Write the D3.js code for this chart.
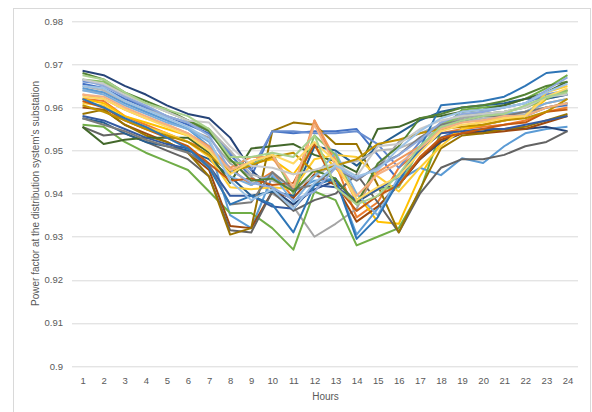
<!DOCTYPE html>
<html>
<head>
<meta charset="utf-8">
<script src="https://d3js.org/d3.v7.min.js"></script>
<style>
	html, body { margin:0; padding:0; background:#fff; }
	text { font-family: "Liberation Sans", "DejaVu Sans", sans-serif; fill:#595959; }
</style>
</head>
<body>
<div id="chart"></div>
<script>
// categories / ticks
var hours = ["1","2","3","4","5","6","7","8","9","10","11","12","13","14","15","16","17","18","19","20","21","22","23","24"];
var yTicks = [0.9, 0.91, 0.92, 0.93, 0.94, 0.95, 0.96, 0.97, 0.98];
var yTickLabels = ["0.9","0.91","0.92","0.93","0.94","0.95","0.96","0.97","0.98"];

// series values (power factor per hour)
var s01 = [0.9655,0.9645,0.962,0.960,0.958,0.956,0.954,0.949,0.944,0.9545,0.954,0.9545,0.9545,0.955,0.949,0.943,0.948,0.953,0.955,0.956,0.957,0.958,0.960,0.9605];
var s02 = [0.962,0.9615,0.958,0.956,0.954,0.952,0.950,0.946,0.942,0.945,0.939,0.957,0.947,0.9345,0.938,0.946,0.950,0.954,0.955,0.9555,0.956,0.957,0.959,0.960];
var s03 = [0.964,0.9635,0.961,0.959,0.957,0.955,0.953,0.947,0.944,0.940,0.937,0.930,0.933,0.9365,0.946,0.952,0.954,0.956,0.9575,0.9585,0.959,0.960,0.962,0.963];
var s04 = [0.962,0.961,0.958,0.9565,0.955,0.9535,0.950,0.945,0.947,0.948,0.9445,0.951,0.946,0.940,0.9335,0.933,0.944,0.952,0.955,0.956,0.957,0.958,0.962,0.964];
var s05 = [0.9645,0.9635,0.961,0.959,0.957,0.955,0.951,0.935,0.932,0.944,0.9405,0.943,0.9435,0.9305,0.9365,0.943,0.946,0.9443,0.9482,0.9471,0.951,0.954,0.955,0.9555];
var s06 = [0.956,0.9555,0.952,0.9495,0.9475,0.9455,0.9405,0.9355,0.9355,0.932,0.927,0.9405,0.9385,0.928,0.930,0.932,0.9405,0.9545,0.9595,0.960,0.9605,0.962,0.9645,0.9675];
var s07 = [0.9685,0.9675,0.965,0.963,0.9605,0.9585,0.9575,0.953,0.9455,0.941,0.9375,0.941,0.943,0.938,0.941,0.942,0.948,0.952,0.954,0.9545,0.955,0.955,0.9555,0.9545];
var s08 = [0.960,0.9595,0.956,0.954,0.952,0.9495,0.9455,0.9325,0.932,0.9405,0.939,0.9445,0.942,0.9335,0.937,0.942,0.948,0.9525,0.954,0.954,0.9545,0.955,0.9565,0.958];
var s09 = [0.9555,0.9535,0.954,0.952,0.950,0.948,0.944,0.9315,0.931,0.9405,0.936,0.9385,0.940,0.9445,0.938,0.931,0.940,0.946,0.948,0.948,0.949,0.951,0.952,0.9545];
var s10 = [0.9585,0.9595,0.956,0.9535,0.952,0.9495,0.944,0.9305,0.932,0.9545,0.9565,0.956,0.9515,0.9515,0.942,0.931,0.941,0.9505,0.9535,0.954,0.955,0.9555,0.957,0.9585];
var s11 = [0.9575,0.9565,0.954,0.952,0.951,0.950,0.948,0.944,0.9395,0.9405,0.9395,0.951,0.950,0.9465,0.951,0.954,0.957,0.959,0.960,0.9605,0.961,0.962,0.962,0.963];
var s12 = [0.9555,0.9515,0.9525,0.953,0.953,0.953,0.9495,0.9425,0.9505,0.951,0.9515,0.949,0.9475,0.945,0.955,0.9555,0.9575,0.958,0.959,0.9595,0.9605,0.962,0.9635,0.966];
var s13 = [0.966,0.9655,0.9625,0.960,0.958,0.9565,0.9545,0.9495,0.9455,0.9545,0.9545,0.954,0.954,0.9545,0.9515,0.946,0.952,0.9565,0.958,0.959,0.960,0.961,0.963,0.964];
var s14 = [0.963,0.962,0.9595,0.9575,0.956,0.954,0.951,0.946,0.9485,0.9485,0.941,0.957,0.948,0.938,0.945,0.948,0.951,0.955,0.957,0.957,0.958,0.959,0.961,0.962];
var s15 = [0.965,0.964,0.9615,0.9595,0.958,0.9565,0.955,0.950,0.9445,0.943,0.941,0.944,0.947,0.9475,0.950,0.9505,0.9525,0.955,0.9565,0.9575,0.958,0.9585,0.960,0.961];
var s16 = [0.961,0.9605,0.9575,0.9555,0.954,0.952,0.9485,0.9415,0.941,0.9415,0.941,0.948,0.949,0.9485,0.944,0.9405,0.946,0.951,0.955,0.957,0.9575,0.958,0.9635,0.965];
var s17 = [0.964,0.963,0.9605,0.9585,0.9565,0.955,0.952,0.944,0.942,0.9445,0.938,0.944,0.9495,0.940,0.935,0.944,0.951,0.9555,0.957,0.958,0.9585,0.959,0.961,0.962];
var s18 = [0.9665,0.966,0.963,0.961,0.959,0.957,0.955,0.9475,0.9465,0.9495,0.940,0.9535,0.949,0.9385,0.941,0.9415,0.9505,0.956,0.958,0.9585,0.959,0.960,0.962,0.964];
var s19 = [0.958,0.957,0.955,0.953,0.9515,0.9505,0.9465,0.9395,0.9395,0.937,0.9365,0.942,0.9415,0.9385,0.941,0.944,0.950,0.954,0.9545,0.955,0.955,0.956,0.957,0.958];
var s20 = [0.9615,0.960,0.957,0.955,0.953,0.951,0.947,0.943,0.9435,0.942,0.9425,0.9515,0.942,0.936,0.9395,0.942,0.9485,0.953,0.954,0.955,0.956,0.9565,0.959,0.9595];
var s21 = [0.9575,0.956,0.9545,0.9525,0.951,0.9495,0.9465,0.9375,0.938,0.945,0.941,0.942,0.946,0.943,0.9465,0.949,0.953,0.956,0.957,0.958,0.958,0.959,0.960,0.961];
var s22 = [0.9605,0.959,0.957,0.955,0.9535,0.952,0.949,0.945,0.9465,0.9485,0.9495,0.945,0.9465,0.948,0.9515,0.9525,0.954,0.955,0.9555,0.956,0.957,0.9575,0.959,0.962];
var s23 = [0.962,0.960,0.9575,0.9555,0.953,0.9505,0.946,0.9375,0.9395,0.9375,0.931,0.942,0.9435,0.9295,0.9345,0.943,0.9505,0.9605,0.961,0.9615,0.9625,0.965,0.968,0.9685];
var s24 = [0.968,0.9665,0.9635,0.9615,0.9595,0.957,0.9545,0.948,0.943,0.9435,0.9405,0.9455,0.9435,0.9375,0.947,0.951,0.9575,0.9585,0.960,0.9605,0.9615,0.963,0.965,0.966];
var s25 = [0.9665,0.965,0.9625,0.9605,0.958,0.9565,0.9535,0.9455,0.9425,0.9415,0.9385,0.9405,0.946,0.9435,0.946,0.949,0.9525,0.9565,0.9585,0.959,0.960,0.961,0.964,0.967];
var s26 = [0.963,0.9625,0.960,0.958,0.956,0.954,0.9505,0.9455,0.9475,0.949,0.9415,0.956,0.9465,0.9395,0.9445,0.947,0.9505,0.955,0.9565,0.957,0.958,0.958,0.960,0.961];
var s27 = [0.9665,0.9655,0.963,0.961,0.959,0.957,0.9565,0.951,0.9465,0.946,0.9445,0.9455,0.947,0.944,0.951,0.9515,0.955,0.957,0.958,0.9585,0.959,0.960,0.9625,0.963];
var s28 = [0.9625,0.962,0.9595,0.9575,0.9555,0.9535,0.950,0.9445,0.9475,0.949,0.947,0.952,0.9475,0.9385,0.9415,0.944,0.9495,0.9545,0.956,0.9565,0.9575,0.958,0.9625,0.9645];
var s29 = [0.965,0.9645,0.9615,0.9595,0.9575,0.9555,0.9525,0.943,0.9385,0.941,0.9365,0.9425,0.9465,0.944,0.9455,0.9505,0.9545,0.9575,0.959,0.9595,0.960,0.961,0.9635,0.9655];
var s30 = [0.9675,0.9665,0.9635,0.961,0.9595,0.958,0.955,0.9485,0.9485,0.9495,0.9485,0.9535,0.9415,0.9375,0.9395,0.9445,0.951,0.9555,0.957,0.958,0.9585,0.9605,0.9625,0.9635];

var seriesList = [s01,s02,s03,s04,s05,s06,s07,s08,s09,s10,s11,s12,s13,s14,s15,s16,s17,s18,s19,s20,s21,s22,s23,s24,s25,s26,s27,s28,s29,s30];

// office palette (base, darker, lighter, ...)
var colorArr = ["#4472C4","#ED7D31","#A5A5A5","#FFC000","#5B9BD5","#70AD47",
				"#264478","#9E480E","#636363","#997300","#255E91","#43682B",
				"#698ED0","#F1975A","#B7B7B7","#FFCD33","#7CAFDD","#8CC168",
				"#335AA1","#C55A11","#7C7C7C","#BF9000","#2E75B6","#548235",
				"#8FAADC","#F4B183","#C9C9C9","#FFD966","#9DC3E6","#A9D18E"];

var W = 592, H = 412;
var margin = {top:21.3, right:14, bottom:46, left:72};
var width = 578 - margin.left,
	height = 366 - margin.top;

var svg = d3.select("#chart").append("svg")
	.attr("width", W)
	.attr("height", H);

// chart frame
svg.append("rect")
	.attr("x", 13.5).attr("y", 8.5)
	.attr("width", 577).attr("height", 420)
	.attr("fill", "#fff")
	.attr("stroke", "#d9d9d9")
	.attr("stroke-width", 1);

var g = svg.append("g")
	.attr("transform", "translate(" + margin.left + "," + margin.top + ")");

var x = d3.scalePoint().domain(hours).range([0, width]).padding(0.5);
var y = d3.scaleLinear().domain([0.9, 0.98]).range([height, 0]);

// gridlines
g.selectAll(".grid")
	.data(yTicks)
	.enter().append("line")
	.attr("class", "grid")
	.attr("x1", 0).attr("x2", width)
	.attr("y1", function(d){ return Math.round(y(d)) + 0.5; })
	.attr("y2", function(d){ return Math.round(y(d)) + 0.5; })
	.attr("stroke", "#d9d9d9")
	.attr("stroke-width", 1);

// y axis labels
var yAxis = d3.axisLeft(y).tickValues(yTicks).tickSize(0).tickPadding(9)
	.tickFormat(function(d, i){ return yTickLabels[i]; });
g.append("g").attr("class", "yAxis").call(yAxis)
	.call(function(a){ a.select(".domain").remove(); })
	.selectAll("text").style("font-size", "9.5px").attr("fill", "#595959");

// x axis labels
var xAxis = d3.axisBottom(x).tickSize(0).tickPadding(11);
g.append("g").attr("class", "xAxis")
	.attr("transform", "translate(0," + height + ")")
	.call(xAxis)
	.call(function(a){ a.select(".domain").remove(); })
	.selectAll("text").style("font-size", "9.5px").attr("fill", "#595959");

// lines
var line = d3.line()
	.x(function(d, i){ return x(hours[i]); })
	.y(function(d){ return y(d); });

g.selectAll(".series")
	.data(seriesList)
	.enter().append("path")
	.attr("class", "series")
	.attr("fill", "none")
	.attr("stroke", function(d, i){ return colorArr[i % colorArr.length]; })
	.attr("stroke-width", 2)
	.attr("stroke-linejoin", "round")
	.attr("d", line);

// axis titles
svg.append("text")
	.attr("x", 325.5).attr("y", 399.5)
	.attr("text-anchor", "middle")
	.style("font-size", "10px")
	.text("Hours");

svg.append("text")
	.attr("transform", "translate(39,193.5) rotate(-90)")
	.attr("text-anchor", "middle")
	.style("font-size", "10px")
	.text("Power factor at the distribution system\u2019s substation");
</script>
</body>
</html>
